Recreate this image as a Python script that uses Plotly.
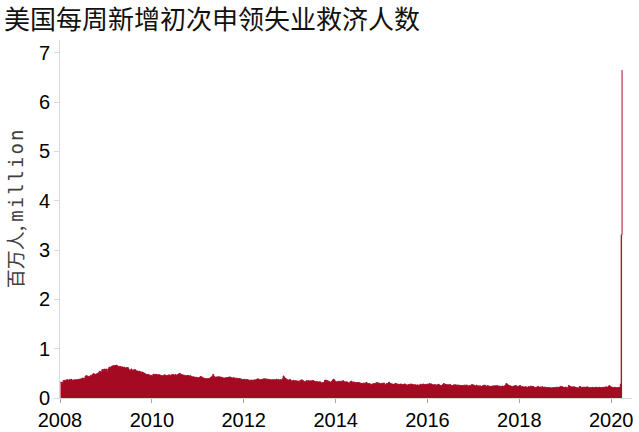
import pandas as pd
import plotly.graph_objects as go

# Weekly initial jobless claims, thousands (week ending Saturday)
claims_2008 = [322, 301, 316, 352, 356, 359, 347, 373, 366, 355, 374, 370, 378, 360, 348, 370, 367, 372, 368, 372,
               376, 380, 384, 385, 399, 406, 369, 404, 447, 449, 447, 431, 441, 432, 457, 454, 481, 492, 485, 480,
               481, 492, 501, 513, 542, 533, 516, 577, 553, 584, 586, 560]
claims_2009 = [589, 524, 588, 626, 623, 627, 642, 651, 657, 654, 659, 665, 655, 643, 634, 641, 637, 623, 630, 617,
               627, 603, 611, 620, 618, 590, 547, 560, 589, 566, 558, 572, 577, 562, 548, 547, 532, 547, 533, 522,
               527, 521, 507, 502, 489, 475, 470, 481, 472, 458, 461, 455]
claims_2010 = [445, 482, 470, 480, 480, 470, 473, 467, 470, 463, 456, 452, 450, 460, 470, 455, 453, 458, 462, 470,
               457, 460, 470, 478, 472, 460, 477, 459, 467, 479, 489, 500, 484, 476, 466, 465, 460, 458, 452, 455,
               455, 454, 446, 450, 438, 430, 431, 424, 424, 418, 420, 410]
claims_2011 = [412, 408, 425, 438, 427, 410, 405, 398, 392, 388, 393, 391, 395, 400, 413, 426, 440, 478, 438, 423,
               424, 426, 427, 430, 428, 425, 420, 419, 408, 404, 405, 408, 412, 414, 416, 424, 426, 420, 406, 405,
               410, 407, 402, 398, 400, 397, 393, 395, 387, 383, 368, 375, 381]
claims_2012 = [373, 368, 377, 371, 365, 361, 359, 362, 364, 362, 356, 368, 365, 372, 385, 388, 375, 373, 371, 372,
               379, 386, 388, 385, 387, 378, 383, 361, 376, 368, 366, 370, 372, 373, 367, 372, 382, 366, 374, 356,
               374, 369, 367, 390, 447, 414, 398, 387, 372, 358, 366, 375]
claims_2013 = [367, 341, 343, 360, 350, 352, 348, 344, 346, 338, 337, 357, 365, 367, 352, 340, 328, 329, 350, 346,
               351, 347, 347, 348, 347, 354, 352, 336, 333, 333, 333, 324, 323, 331, 324, 297, 309, 307, 322, 358,
               364, 342, 350, 339, 333, 323, 319, 344, 367, 380, 357, 337]
claims_2014 = [325, 332, 330, 344, 331, 337, 340, 344, 348, 327, 324, 330, 326, 314, 302, 306, 333, 342, 323, 321,
               325, 316, 313, 314, 313, 316, 310, 304, 282, 297, 290, 303, 299, 301, 317, 301, 293, 293, 287, 280,
               264, 285, 287, 291, 301, 295, 313, 307, 301, 298, 286, 292]
claims_2015 = [299, 296, 305, 275, 276, 292, 287, 307, 319, 297, 291, 282, 284, 268, 282, 297, 289, 280, 284, 268,
               277, 283, 279, 271, 265, 282, 285, 273, 255, 265, 272, 271, 281, 283, 277, 274, 268, 263, 268, 257,
               266, 258, 260, 269, 280, 275, 276, 283, 270, 276, 270, 281]
claims_2016 = [277, 284, 293, 277, 285, 270, 262, 269, 272, 261, 262, 268, 279, 266, 253, 247, 257, 274, 294, 274,
               277, 270, 268, 268, 266, 277, 259, 254, 253, 264, 266, 268, 262, 262, 261, 260, 257, 252, 255, 249,
               255, 259, 261, 256, 263, 254, 235, 251, 256, 254, 275, 266, 263]
claims_2017 = [247, 237, 260, 245, 247, 239, 246, 242, 227, 246, 250, 260, 258, 240, 237, 254, 233, 240, 232, 238,
               239, 244, 246, 243, 249, 249, 246, 244, 241, 238, 232, 236, 244, 232, 244, 261, 293, 281, 262, 259,
               250, 241, 236, 230, 240, 241, 247, 253, 238, 228, 239, 248]
claims_2018 = [251, 221, 231, 228, 224, 222, 229, 220, 210, 230, 227, 230, 244, 225, 233, 231, 211, 213, 214, 225,
               236, 224, 218, 223, 220, 231, 212, 218, 221, 215, 213, 210, 212, 213, 205, 203, 207, 207, 212, 210,
               214, 218, 218, 213, 221, 221, 234, 235, 226, 213, 215, 220]
claims_2019 = [216, 212, 200, 256, 234, 233, 221, 225, 220, 229, 221, 213, 211, 203, 195, 227, 233, 214, 211, 221,
               217, 220, 212, 222, 225, 218, 212, 211, 206, 215, 217, 210, 211, 211, 219, 214, 215, 208, 218, 209,
               210, 212, 217, 218, 213, 226, 222, 214, 236, 252, 236, 222]
claims_2020 = [223, 212, 208, 216, 215, 205, 211, 211, 217, 216, 282, 3307, 6648]

first_week = "2008-01-05"
title_text = "美国每周新增初次申领失业救济人数"
y_title = ('百万人, <span style="font-family:DejaVu Sans Mono;letter-spacing:2px">million</span>')
y_ticks = [0, 1, 2, 3, 4, 5, 6, 7]

all_claims = (claims_2008 + claims_2009 + claims_2010 + claims_2011 + claims_2012 + claims_2013 +
              claims_2014 + claims_2015 + claims_2016 + claims_2017 + claims_2018 + claims_2019 + claims_2020)
weeks = pd.date_range(first_week, periods=len(all_claims), freq="W-SAT")
millions = [v / 1000 for v in all_claims]

RED = "#A50A23"
fig = go.Figure()
fig.add_trace(go.Scatter(
    x=weeks, y=millions, mode="lines", line=dict(color=RED, width=1, shape="hv"),
    fill="tozeroy", fillcolor=RED, hoverinfo="x+y", showlegend=False,
))

W, H = 639, 432
ml, mr, mt, mb = 60, 7, 40, 34
fig.update_layout(
    width=W, height=H,
    margin=dict(l=ml, r=mr, t=mt, b=mb),
    paper_bgcolor="white", plot_bgcolor="white",
    title=dict(text=title_text, x=4 / W, xref="container", xanchor="left",
               y=1 - 20 / H, yref="container", yanchor="middle",
               font=dict(family="Noto Sans CJK SC", size=26, color="#111111")),
    font=dict(family="Liberation Sans, Arial", color="#000000"),
    xaxis=dict(type="date", range=["2008-01-01", "2020-06-15"], dtick="M24", tick0="2008-01-01",
               tickformat="%Y", showgrid=False, zeroline=False, showline=True, linecolor="#D9D9D9",
               linewidth=1, ticks="outside", ticklen=4, tickcolor="#A6A6A6", automargin=False,
               tickfont=dict(size=20, color="#000000")),
    yaxis=dict(range=[0, 7.26], tickvals=y_ticks, showgrid=False, zeroline=False, showline=True,
               linecolor="#D9D9D9", linewidth=1, ticks="outside", ticklen=5, tickcolor="#D9D9D9",
               automargin=False, tickfont=dict(size=20, color="#000000")),
    annotations=[dict(text=y_title, textangle=-90, xref="paper", yref="paper",
                      x=-(ml - 14) / (W - ml - mr), y=0.53, xanchor="center", yanchor="middle",
                      showarrow=False, font=dict(family="Noto Sans CJK SC", size=19, color="#404040"))],
)

fig.write_html("out.html", config={"displayModeBar": False},
               post_script="document.body.style.margin='0';document.body.style.padding='0';")
